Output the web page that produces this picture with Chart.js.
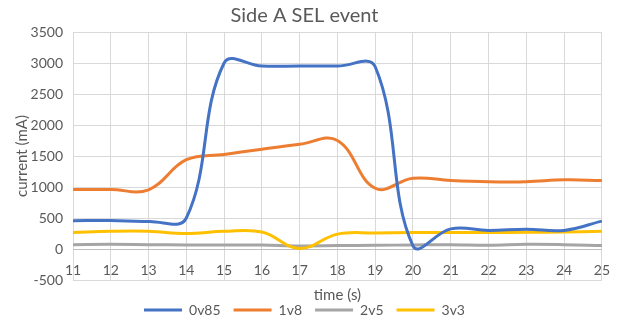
<!DOCTYPE html>
<html>
<head>
<meta charset="utf-8">
<script src="https://cdn.jsdelivr.net/npm/chart.js@4.4.1/dist/chart.umd.min.js"></script>
<style>
    body { margin: 0; background: #fff; }
    #wrap { width: 623px; height: 325px; }
</style>
</head>
<body>
<div id="wrap"><canvas id="mainChart" width="623" height="325"></canvas></div>
<script>
// ================= DATA =================
const times = [11, 12, 13, 14, 15, 16, 17, 18, 19, 20, 21, 22, 23, 24, 25];
const v0v85 = [455, 460, 445, 500, 3000, 2950, 2950, 2950, 2940, 50, 325, 300, 320, 300, 450];
const v1v8  = [960, 960, 955, 1440, 1525, 1610, 1690, 1750, 980, 1140, 1105, 1085, 1085, 1115, 1105];
const v2v5  = [70, 75, 70, 65, 65, 65, 50, 55, 60, 65, 70, 60, 75, 70, 55];
const v3v3  = [265, 285, 285, 250, 285, 275, 10, 240, 260, 268, 265, 265, 270, 275, 285];
const seriesNames = ['0v85', '1v8', '2v5', '3v3'];
const seriesColors = ['#4472C4', '#ED7D31', '#A5A5A5', '#FFC000'];
const yTicks = { min: -500, max: 3500, step: 500 };

// ================= HELPERS =================
const pts = (arr) => times.map((t, i) => ({ x: t, y: arr[i] }));
const grey = '#595959';
const gridC = '#d9d9d9';

Chart.defaults.font.family = 'Lato, "Liberation Sans", sans-serif';
Chart.defaults.color = grey;

const drawOrder = [0, 2, 3, 1]; // blue on top, yellow over grey

const datasets = [v0v85, v1v8, v2v5, v3v3].map((arr, i) => ({
    label: seriesNames[i],
    data: pts(arr),
    borderColor: seriesColors[i],
    backgroundColor: seriesColors[i],
    borderWidth: 3,
    pointRadius: 0,
    tension: 0.4,
    fill: false,
    order: drawOrder[i]
}));

// ================= CHART =================
new Chart(document.getElementById('mainChart').getContext('2d'), {
    type: 'line',
    data: { datasets },
    options: {
        responsive: false,
        animation: false,
        layout: { padding: { left: 0, right: 14, top: 0, bottom: -2 } },
        plugins: {
            title: {
                display: true,
                text: 'Side A SEL event',
                color: grey,
                font: { size: 20, weight: 'normal' },
                padding: { top: 4, bottom: 4 }
            },
            legend: {
                position: 'bottom',
                labels: {
                    usePointStyle: true,
                    pointStyle: 'line',
                    pointStyleWidth: 38,
                    boxWidth: 38,
                    padding: 13,
                    color: grey,
                    font: { size: 14 },
                    sort: (a, b) => a.datasetIndex - b.datasetIndex
                }
            },
            tooltip: { enabled: false }
        },
        scales: {
            x: {
                type: 'linear',
                position: { y: 0 },
                min: times[0],
                max: times[times.length - 1],
                ticks: { stepSize: 1, padding: 13, font: { size: 14 }, color: grey },
                grid: { color: gridC, drawTicks: false },
                border: { color: '#bfbfbf', width: 1 }
            },
            x2: {
                type: 'linear',
                axis: 'x',
                position: 'bottom',
                min: times[0],
                max: times[times.length - 1],
                ticks: { display: false },
                grid: { display: false, drawTicks: false },
                border: { display: false },
                title: {
                    display: true,
                    text: 'time (s)',
                    color: grey,
                    font: { size: 15 },
                    padding: { top: 6, bottom: -14 }
                }
            },
            y: {
                min: yTicks.min,
                max: yTicks.max,
                ticks: {
                    stepSize: yTicks.step, padding: 10, font: { size: 14 }, color: grey,
                    callback: (v) => String(v)
                },
                grid: { color: gridC, drawTicks: false },
                border: { display: false },
                title: {
                    display: true,
                    text: 'current (mA)',
                    color: grey,
                    font: { size: 15 },
                    padding: { top: 13, bottom: 0 }
                },
                afterFit: (scale) => { scale.width = 73; }
            }
        }
    }
});
</script>
</body>
</html>
